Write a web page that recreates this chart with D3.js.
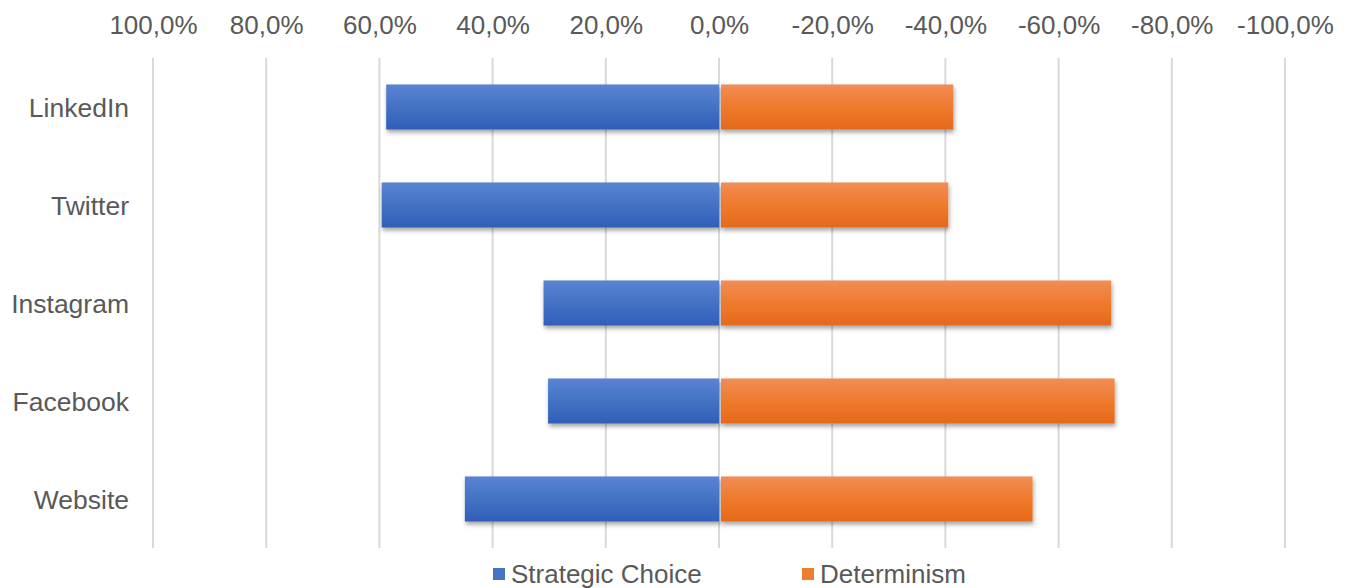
<!DOCTYPE html>
<html>
<head>
<meta charset="utf-8">
<script src="https://cdn.jsdelivr.net/npm/d3@7"></script>
<style>
  body { margin: 0; background: #fff; }
  text { font-family: "Liberation Sans", Arial, sans-serif; fill: #595959; }
</style>
</head>
<body>
<svg id="chart" width="1350" height="588"></svg>
<script>

var categories = ['LinkedIn', 'Twitter', 'Instagram', 'Facebook', 'Website'];
var strategic_choice = [0.588, 0.596, 0.310, 0.302, 0.449];
var determinism = [-0.414, -0.405, -0.693, -0.699, -0.554];
var tick_values = [1, 0.8, 0.6, 0.4, 0.2, 0, -0.2, -0.4, -0.6, -0.8, -1];
var series_names = ['Strategic Choice', 'Determinism'];

class DivergingBarView
{
  constructor(id)
  {
    this.svg = d3.select('#' + id);
    this.margin = {top: 58, left: 153, right: 65, bottom: 40};
    this.width = 1350 - this.margin.left - this.margin.right;
    this.height = 490;

    this.x = d3.scaleLinear().domain([1, -1]).range([this.margin.left, this.margin.left + this.width]);
    this.y = d3.scaleBand().domain(categories).range([this.margin.top, this.margin.top + this.height]).paddingInner(0.54).paddingOuter(0.27);

    var locale = d3.formatLocale({decimal: ',', thousands: '.', grouping: [3], currency: ['', '€'], minus: '-'});
    this.fmt = locale.format('.1%');

    this.make_defs();
  }

  make_defs()
  {
    var defs = this.svg.append('defs');

    var grads = [['grad-blue', '#5a84d2', '#4472c4', '#2f5fb8'], ['grad-orange', '#f18d55', '#ef7a2c', '#e5691a']];
    grads.forEach(g => {
      var lg = defs.append('linearGradient').attr('id', g[0]).attr('x1', 0).attr('y1', 0).attr('x2', 0).attr('y2', 1);
      lg.append('stop').attr('offset', '0%').attr('stop-color', g[1]);
      lg.append('stop').attr('offset', '50%').attr('stop-color', g[2]);
      lg.append('stop').attr('offset', '100%').attr('stop-color', g[3]);
    });

    defs.append('filter').attr('id', 'shadow').attr('x', '-5%').attr('y', '-20%').attr('width', '110%').attr('height', '150%')
        .append('feDropShadow').attr('dx', 1).attr('dy', 3).attr('stdDeviation', 2).attr('flood-color', '#000').attr('flood-opacity', 0.35);
  }

  draw()
  {
    // gridlines
    this.svg.append('g')
        .selectAll('line')
        .data(tick_values)
        .enter()
        .append('line')
        .attr('x1', d => this.x(d))
        .attr('x2', d => this.x(d))
        .attr('y1', this.margin.top)
        .attr('y2', this.margin.top + this.height)
        .attr('stroke', '#d9d9d9')
        .attr('stroke-width', 2);

    // top axis labels
    var axis = this.svg.append('g')
        .attr('transform', 'translate(0,34)')
        .call(d3.axisTop(this.x).tickValues(tick_values).tickFormat(this.fmt).tickSize(0).tickPadding(0));
    axis.select('.domain').remove();
    axis.selectAll('text').attr('font-size', 26).attr('fill', '#595959').attr('font-family', '"Liberation Sans", Arial, sans-serif');

    // category labels
    var yaxis = this.svg.append('g')
        .attr('transform', 'translate(129,0)')
        .call(d3.axisLeft(this.y).tickSize(0).tickPadding(0));
    yaxis.select('.domain').remove();
    yaxis.selectAll('text').attr('font-size', 26.5).attr('fill', '#595959').attr('dy', '0.36em').attr('font-family', '"Liberation Sans", Arial, sans-serif');

    var bars = this.svg.append('g').attr('filter', 'url(#shadow)');

    bars.selectAll('.bar-sc')
        .data(strategic_choice)
        .enter()
        .append('rect')
        .attr('class', 'bar-sc')
        .attr('x', d => this.x(d))
        .attr('y', (d, i) => this.y(categories[i]))
        .attr('width', d => this.x(0) - this.x(d))
        .attr('height', this.y.bandwidth())
        .attr('fill', 'url(#grad-blue)');

    bars.selectAll('.bar-det')
        .data(determinism)
        .enter()
        .append('rect')
        .attr('class', 'bar-det')
        .attr('x', d => this.x(0) + 2)
        .attr('y', (d, i) => this.y(categories[i]))
        .attr('width', d => this.x(d) - this.x(0) - 2)
        .attr('height', this.y.bandwidth())
        .attr('fill', 'url(#grad-orange)');

    this.legend();
  }

  legend()
  {
    var colors = ['#4472c4', '#ed7d31'];
    var xs = [493, 802];
    var g = this.svg.append('g');

    series_names.forEach((name, i) => {
      g.append('rect')
       .attr('x', xs[i])
       .attr('y', 568)
       .attr('width', 12)
       .attr('height', 12)
       .attr('fill', colors[i]);
      g.append('text')
       .attr('x', xs[i] + 18)
       .attr('y', 583)
       .attr('font-size', 26)
       .text(name);
    });
  }
}

var view = new DivergingBarView('chart');
view.draw();

</script>
</body>
</html>
